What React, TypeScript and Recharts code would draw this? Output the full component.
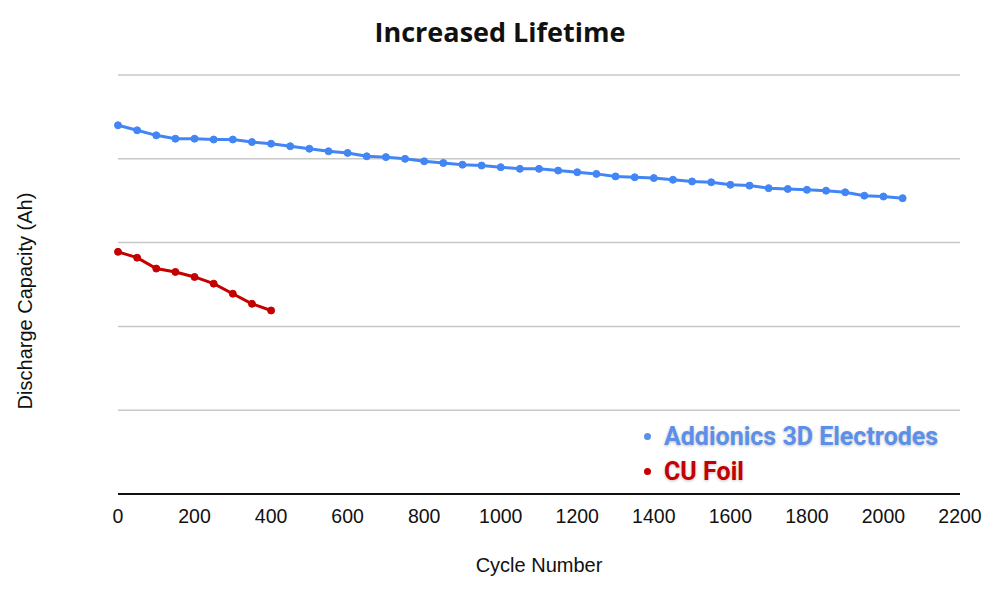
import { LineChart, Line, XAxis, YAxis, CartesianGrid } from 'recharts';

const cycles3d = [
  0, 50, 100, 150, 200, 250, 300, 350, 400, 450, 500, 550, 600, 650, 700, 750, 800, 850, 900, 950, 1000,
  1050, 1100, 1150, 1200, 1250, 1300, 1350, 1400, 1450, 1500, 1550, 1600, 1650, 1700, 1750, 1800, 1850,
  1900, 1950, 2000, 2050,
];
const capacity3d = [
  4.4, 4.34, 4.28, 4.24, 4.24, 4.23, 4.23, 4.2, 4.18, 4.15, 4.12, 4.09, 4.07, 4.03, 4.02, 4.0, 3.97, 3.95,
  3.93, 3.92, 3.9, 3.88, 3.88, 3.86, 3.84, 3.82, 3.79, 3.78, 3.77, 3.75, 3.73, 3.72, 3.69, 3.68, 3.65, 3.64,
  3.63, 3.62, 3.6, 3.56, 3.55, 3.53,
];
const cyclesFoil = [0, 50, 100, 150, 200, 250, 300, 350, 400];
const capacityFoil = [2.89, 2.82, 2.69, 2.65, 2.59, 2.51, 2.39, 2.27, 2.19];
const xTicks = [0, 200, 400, 600, 800, 1000, 1200, 1400, 1600, 1800, 2000, 2200];
const yTicks = [0, 1, 2, 3, 4, 5];
const seriesNames = ['Addionics 3D Electrodes', 'CU Foil'];

const data3d = cycles3d.map((cycle, i) => ({ cycle, capacity: capacity3d[i] }));
const dataFoil = cyclesFoil.map((cycle, i) => ({ cycle, capacity: capacityFoil[i] }));

const BLUE = '#4285f4';
const RED = '#c40000';
const legendColors = ['#5b8fea', '#c40000'];
const AXIS_FONT = '"Liberation Sans", Arial, sans-serif';

// legend drawn outside the chart so it doesn't eat plot height
function LegendBox() {
  return (
    <div
      style={{
        position: 'absolute',
        left: 644,
        top: 419,
        fontFamily: 'Roboto, sans-serif',
        fontWeight: 700,
        fontSize: 25,
      }}
    >
      {seriesNames.map((name, i) => (
        <div key={name} style={{ display: 'flex', alignItems: 'center', height: 35 }}>
          <span
            style={{
              width: 7,
              height: 7,
              borderRadius: '50%',
              background: legendColors[i],
              marginRight: 13,
            }}
          />
          <span style={{ color: legendColors[i], textShadow: '0 1px 3px rgba(0,0,0,0.25)' }}>{name}</span>
        </div>
      ))}
    </div>
  );
}

export default function App() {
  return (
    <div style={{ position: 'absolute', left: 0, top: 0, width: 1000, height: 595, background: '#fff' }}>
      <div
        style={{
          position: 'absolute',
          left: 0,
          top: 13,
          width: 1000,
          textAlign: 'center',
          fontFamily: '"Open Sans", sans-serif',
          fontWeight: 700,
          fontSize: 27,
          color: '#111',
        }}
      >
        Increased Lifetime
      </div>
      <div
        style={{
          position: 'absolute',
          left: 25,
          top: 301,
          transform: 'translate(-50%, -50%) rotate(-90deg)',
          whiteSpace: 'nowrap',
          fontFamily: AXIS_FONT,
          fontSize: 20,
          color: '#111',
        }}
      >
        Discharge Capacity (Ah)
      </div>
      <LineChart width={1000} height={595} margin={{ top: 75, right: 40, bottom: 71, left: 118 }}>
        <CartesianGrid vertical={false} stroke="#c8c8c8" strokeWidth={1.5} />
        <XAxis
          type="number"
          dataKey="cycle"
          domain={[0, 2200]}
          ticks={xTicks}
          allowDuplicatedCategory={false}
          height={30}
          tickLine={false}
          tickSize={0}
          tickMargin={15}
          axisLine={{ stroke: '#111', strokeWidth: 2 }}
          tick={{ fill: '#111', fontSize: 19.5, fontFamily: AXIS_FONT }}
          label={{
            value: 'Cycle Number',
            position: 'bottom',
            offset: 34,
            fill: '#111',
            fontSize: 20,
            fontFamily: AXIS_FONT,
          }}
        />
        <YAxis type="number" domain={[0, 5]} ticks={yTicks} hide />
        <Line
          data={data3d}
          dataKey="capacity"
          name={seriesNames[0]}
          stroke={BLUE}
          strokeWidth={3}
          dot={{ r: 3.5, fill: BLUE, stroke: BLUE, strokeWidth: 1 }}
          isAnimationActive={false}
        />
        <Line
          data={dataFoil}
          dataKey="capacity"
          name={seriesNames[1]}
          stroke={RED}
          strokeWidth={3}
          dot={{ r: 3.5, fill: RED, stroke: RED, strokeWidth: 1 }}
          isAnimationActive={false}
        />
      </LineChart>
      <LegendBox />
    </div>
  );
}
